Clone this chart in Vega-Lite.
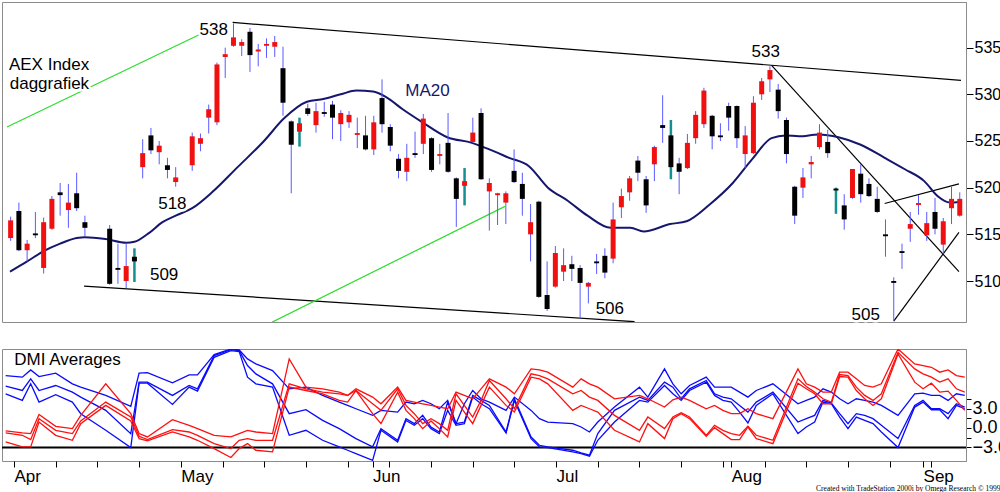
{
  "$schema": "https://vega.github.io/schema/vega-lite/v6.json",
  "background": "white",
  "padding": {"left": 0, "top": 1, "right": 0, "bottom": 0},
  "spacing": 24,
  "config": {
    "font": "Liberation Sans",
    "view": {"stroke": "#8c8c8c"},
    "axis": {"grid": false, "labelColor": "black", "tickColor": "black", "domainColor": "#8c8c8c", "labelFont": "Liberation Sans"},
    "axisX": {"labelOverlap": false}
  },
  "datasets": {
    "ohlc": [
      {"i": -1, "o": 514.6, "h": 516.9, "l": 514.3, "c": 516.5},
      {"i": 0, "o": 517.5, "h": 518.4, "l": 513.2, "c": 513.3},
      {"i": 1, "o": 513.3, "h": 514.4, "l": 512.1, "c": 514.0},
      {"i": 2, "o": 515.1, "h": 517.4, "l": 514.6, "c": 514.9},
      {"i": 3, "o": 511.4, "h": 516.8, "l": 510.8, "c": 516.3},
      {"i": 4, "o": 515.6, "h": 519.1, "l": 515.5, "c": 518.8},
      {"i": 5, "o": 519.5, "h": 520.5, "l": 517.0, "c": 519.2},
      {"i": 6, "o": 517.6, "h": 520.4, "l": 515.7, "c": 518.4},
      {"i": 7, "o": 519.4, "h": 521.6, "l": 517.5, "c": 517.8},
      {"i": 8, "o": 516.3, "h": 517.0, "l": 514.8, "c": 515.7},
      {"i": 11, "o": 515.6, "h": 516.0, "l": 509.6, "c": 509.7},
      {"i": 12, "o": 511.4, "h": 514.0, "l": 509.7, "c": 511.2},
      {"i": 13, "o": 510.0, "h": 514.0, "l": 509.25, "c": 511.6},
      {"i": 14, "o": 512.6, "h": 513.5, "l": 509.9, "c": 512.1, "s": 1},
      {"i": 15, "o": 522.2, "h": 525.2, "l": 521.0, "c": 523.7},
      {"i": 16, "o": 525.6, "h": 526.4, "l": 523.6, "c": 524.0},
      {"i": 17, "o": 523.8, "h": 525.0, "l": 522.5, "c": 524.5},
      {"i": 18, "o": 522.4, "h": 523.2, "l": 521.0, "c": 521.9},
      {"i": 19, "o": 520.6, "h": 522.2, "l": 520.1, "c": 521.1},
      {"i": 21, "o": 522.4, "h": 525.9, "l": 521.8, "c": 525.5},
      {"i": 22, "o": 524.7, "h": 525.8, "l": 523.9, "c": 525.3},
      {"i": 23, "o": 527.5, "h": 528.9, "l": 525.8, "c": 528.4},
      {"i": 24, "o": 527.0, "h": 533.4, "l": 526.7, "c": 533.2},
      {"i": 25, "o": 534.0, "h": 535.0, "l": 531.75, "c": 534.3},
      {"i": 26, "o": 535.2, "h": 537.6, "l": 535.1, "c": 536.1},
      {"i": 27, "o": 535.2, "h": 535.9, "l": 534.1, "c": 535.6},
      {"i": 28, "o": 536.7, "h": 537.1, "l": 532.4, "c": 534.2},
      {"i": 29, "o": 534.6, "h": 535.4, "l": 533.0, "c": 534.8},
      {"i": 30, "o": 535.2, "h": 536.0, "l": 533.9, "c": 535.4},
      {"i": 31, "o": 535.1, "h": 536.25, "l": 534.0, "c": 535.6},
      {"i": 32, "o": 532.8, "h": 535.1, "l": 527.7, "c": 529.1},
      {"i": 33, "o": 527.1, "h": 527.2, "l": 519.4, "c": 524.6},
      {"i": 34, "o": 526.0, "h": 527.5, "l": 524.4, "c": 526.9, "s": 1},
      {"i": 35, "o": 528.5, "h": 529.0, "l": 527.7, "c": 527.9},
      {"i": 36, "o": 526.7, "h": 529.1, "l": 525.9, "c": 528.2},
      {"i": 37, "o": 528.1, "h": 529.2, "l": 527.6, "c": 527.9},
      {"i": 38, "o": 528.9, "h": 529.3, "l": 525.2, "c": 527.5},
      {"i": 39, "o": 526.8, "h": 528.3, "l": 525.0, "c": 528.0},
      {"i": 40, "o": 527.0, "h": 528.2, "l": 526.4, "c": 527.8},
      {"i": 41, "o": 525.65, "h": 527.5, "l": 524.25, "c": 525.85},
      {"i": 42, "o": 525.6, "h": 527.7, "l": 524.0, "c": 524.1},
      {"i": 43, "o": 524.1, "h": 527.7, "l": 523.5, "c": 527.0},
      {"i": 44, "o": 529.6, "h": 531.6, "l": 525.9, "c": 526.8},
      {"i": 45, "o": 526.5, "h": 526.8, "l": 523.9, "c": 524.5},
      {"i": 46, "o": 523.1, "h": 523.6, "l": 521.0, "c": 521.8},
      {"i": 47, "o": 521.7, "h": 524.7, "l": 520.7, "c": 523.2},
      {"i": 48, "o": 523.7, "h": 526.0, "l": 523.2, "c": 523.5},
      {"i": 49, "o": 524.7, "h": 527.9, "l": 523.6, "c": 527.4},
      {"i": 50, "o": 525.3, "h": 525.4, "l": 521.7, "c": 521.9},
      {"i": 51, "o": 523.4, "h": 524.7, "l": 522.5, "c": 523.6},
      {"i": 52, "o": 524.8, "h": 528.0, "l": 521.6, "c": 521.7},
      {"i": 53, "o": 521.0, "h": 521.1, "l": 515.8, "c": 518.8},
      {"i": 54, "o": 520.2, "h": 522.1, "l": 518.1, "c": 520.7, "s": 1},
      {"i": 55, "o": 524.9, "h": 527.5, "l": 524.8, "c": 525.9},
      {"i": 56, "o": 528.0, "h": 528.5, "l": 520.85, "c": 520.9},
      {"i": 57, "o": 519.6, "h": 521.0, "l": 515.4, "c": 520.5},
      {"i": 58, "o": 519.2, "h": 519.45, "l": 516.0, "c": 519.4},
      {"i": 59, "o": 518.4, "h": 519.6, "l": 516.1, "c": 519.4},
      {"i": 60, "o": 521.8, "h": 524.1, "l": 520.5, "c": 520.6},
      {"i": 61, "o": 520.4, "h": 521.6, "l": 517.0, "c": 518.8},
      {"i": 62, "o": 515.0, "h": 518.25, "l": 512.1, "c": 516.3},
      {"i": 63, "o": 518.5, "h": 518.6, "l": 508.2, "c": 508.3},
      {"i": 64, "o": 508.5, "h": 512.1, "l": 506.8, "c": 507.0},
      {"i": 65, "o": 509.4, "h": 513.75, "l": 509.3, "c": 513.0},
      {"i": 66, "o": 511.0, "h": 513.5, "l": 510.0, "c": 511.7},
      {"i": 67, "o": 511.8, "h": 512.7, "l": 510.0, "c": 511.3},
      {"i": 68, "o": 511.4, "h": 511.7, "l": 506.0, "c": 509.8},
      {"i": 69, "o": 509.4, "h": 509.9, "l": 507.6, "c": 509.8},
      {"i": 70, "o": 512.1, "h": 512.9, "l": 510.75, "c": 511.9},
      {"i": 71, "o": 512.7, "h": 513.5, "l": 510.3, "c": 510.9},
      {"i": 72, "o": 512.4, "h": 518.4, "l": 511.9, "c": 516.6},
      {"i": 73, "o": 517.9, "h": 519.9, "l": 516.75, "c": 519.1},
      {"i": 74, "o": 519.5, "h": 521.25, "l": 518.6, "c": 521.0},
      {"i": 75, "o": 522.9, "h": 523.4, "l": 520.7, "c": 521.6},
      {"i": 76, "o": 520.9, "h": 521.25, "l": 517.3, "c": 518.1},
      {"i": 77, "o": 522.5, "h": 524.5, "l": 520.7, "c": 524.35},
      {"i": 78, "o": 526.7, "h": 529.9, "l": 524.8, "c": 526.4},
      {"i": 79, "o": 525.6, "h": 527.25, "l": 520.9, "c": 522.2, "s": 1},
      {"i": 80, "o": 522.6, "h": 523.2, "l": 519.3, "c": 521.7},
      {"i": 81, "o": 522.1, "h": 525.75, "l": 522.0, "c": 524.8},
      {"i": 82, "o": 525.3, "h": 528.2, "l": 524.7, "c": 527.8},
      {"i": 83, "o": 526.8, "h": 530.7, "l": 526.4, "c": 530.4},
      {"i": 84, "o": 527.7, "h": 527.8, "l": 524.1, "c": 525.5},
      {"i": 85, "o": 525.6, "h": 526.9, "l": 525.0, "c": 525.4},
      {"i": 86, "o": 528.75, "h": 529.1, "l": 526.1, "c": 527.5},
      {"i": 87, "o": 528.75, "h": 528.8, "l": 524.25, "c": 525.3},
      {"i": 88, "o": 523.6, "h": 526.6, "l": 522.1, "c": 525.6},
      {"i": 89, "o": 523.7, "h": 529.8, "l": 523.6, "c": 529.1},
      {"i": 90, "o": 530.0, "h": 531.75, "l": 529.4, "c": 531.4},
      {"i": 91, "o": 531.6, "h": 533.0, "l": 530.25, "c": 532.6},
      {"i": 92, "o": 530.5, "h": 531.1, "l": 527.4, "c": 528.2},
      {"i": 93, "o": 527.25, "h": 527.5, "l": 522.6, "c": 523.6},
      {"i": 94, "o": 520.1, "h": 520.2, "l": 516.1, "c": 517.0},
      {"i": 95, "o": 520.0, "h": 522.1, "l": 518.9, "c": 521.1},
      {"i": 96, "o": 522.5, "h": 523.4, "l": 521.0, "c": 522.75},
      {"i": 97, "o": 524.35, "h": 526.8, "l": 524.1, "c": 525.9},
      {"i": 98, "o": 524.9, "h": 526.2, "l": 523.2, "c": 523.7},
      {"i": 99, "o": 519.9, "h": 520.0, "l": 517.2, "c": 519.7, "s": 1},
      {"i": 100, "o": 518.1, "h": 519.3, "l": 515.5, "c": 516.6},
      {"i": 101, "o": 518.9, "h": 522.0, "l": 518.8, "c": 522.0},
      {"i": 102, "o": 521.5, "h": 522.5, "l": 518.4, "c": 519.3},
      {"i": 103, "o": 520.4, "h": 521.0, "l": 519.0, "c": 519.1},
      {"i": 104, "o": 518.8, "h": 520.1, "l": 517.3, "c": 517.4},
      {"i": 105, "o": 515.0, "h": 516.6, "l": 512.6, "c": 514.8},
      {"i": 106, "o": 510.0, "h": 510.4, "l": 505.7, "c": 509.8},
      {"i": 107, "o": 513.2, "h": 514.0, "l": 511.3, "c": 513.0},
      {"i": 108, "o": 515.6, "h": 517.4, "l": 514.2, "c": 516.1},
      {"i": 109, "o": 518.15, "h": 519.2, "l": 517.1, "c": 518.35},
      {"i": 110, "o": 514.9, "h": 517.4, "l": 514.3, "c": 516.2},
      {"i": 111, "o": 517.4, "h": 518.9, "l": 515.0, "c": 515.6},
      {"i": 112, "o": 513.9, "h": 516.75, "l": 512.9, "c": 516.4},
      {"i": 113, "o": 517.8, "h": 520.1, "l": 516.1, "c": 518.8},
      {"i": 114, "o": 517.0, "h": 519.5, "l": 516.9, "c": 518.8}
    ],
    "ma": [
      {"i": -1.08, "m": 511.0}, {"i": 1, "m": 512.1}, {"i": 3, "m": 513.2}, {"i": 5, "m": 514.0},
      {"i": 7, "m": 514.6}, {"i": 8, "m": 514.7}, {"i": 10.5, "m": 514.5}, {"i": 13, "m": 514.1},
      {"i": 14, "m": 514.2}, {"i": 15.7, "m": 515.1}, {"i": 17.4, "m": 516.3}, {"i": 19, "m": 517.0},
      {"i": 21, "m": 517.8}, {"i": 23.4, "m": 519.5}, {"i": 26.5, "m": 522.2}, {"i": 29.7, "m": 525.0},
      {"i": 32.1, "m": 527.4}, {"i": 34.9, "m": 529.2}, {"i": 36.9, "m": 529.5}, {"i": 39, "m": 530.0},
      {"i": 40.9, "m": 530.4}, {"i": 42.9, "m": 530.3}, {"i": 44.5, "m": 529.7}, {"i": 46.5, "m": 528.4},
      {"i": 48.9, "m": 527.0}, {"i": 51.9, "m": 525.4}, {"i": 54.9, "m": 524.8}, {"i": 57, "m": 524.1},
      {"i": 59.4, "m": 523.2}, {"i": 61.8, "m": 522.3}, {"i": 64.1, "m": 520.0}, {"i": 66.5, "m": 518.6},
      {"i": 68.9, "m": 517.0}, {"i": 71.7, "m": 515.7}, {"i": 74.1, "m": 515.7}, {"i": 75.7, "m": 515.3},
      {"i": 78.9, "m": 516.1}, {"i": 80.9, "m": 516.4}, {"i": 83.7, "m": 518.2}, {"i": 86.5, "m": 520.5},
      {"i": 88.8, "m": 523.0}, {"i": 91.2, "m": 525.3}, {"i": 92.9, "m": 525.6}, {"i": 94.5, "m": 525.5},
      {"i": 96.9, "m": 525.7}, {"i": 99.3, "m": 525.4}, {"i": 102, "m": 524.6}, {"i": 104.9, "m": 523.2},
      {"i": 107.3, "m": 522.0}, {"i": 109.7, "m": 520.7}, {"i": 111.3, "m": 519.1}, {"i": 112.8, "m": 518.4},
      {"i": 114, "m": 518.5}
    ],
    "lines": [
      {"g": "t1", "kind": "trend", "i": 25.9, "p": 537.7}, {"g": "t1", "kind": "trend", "i": 114.15, "p": 531.5},
      {"g": "t2", "kind": "trend", "i": 7.9, "p": 509.46}, {"g": "t2", "kind": "trend", "i": 74.6, "p": 505.64},
      {"g": "t3", "kind": "trend", "i": 91.2, "p": 533.1}, {"g": "t3", "kind": "trend", "i": 113.9, "p": 511.0},
      {"g": "t4", "kind": "trend", "i": 104.9, "p": 518.3}, {"g": "t4", "kind": "trend", "i": 113.9, "p": 520.4},
      {"g": "t5", "kind": "trend", "i": 106.0, "p": 505.7}, {"g": "t5", "kind": "trend", "i": 113.9, "p": 515.2},
      {"g": "g1", "kind": "guide", "i": -1.44, "p": 526.5}, {"g": "g1", "kind": "guide", "i": 21.9, "p": 536.4},
      {"g": "g2", "kind": "guide", "i": 30.7, "p": 505.6}, {"g": "g2", "kind": "guide", "i": 58.9, "p": 518.0}
    ],
    "notes": [
      {"t": "AEX Index", "i": 3.66, "p": 533.1},
      {"t": "daggrafiek", "i": 3.7, "p": 531.1},
      {"t": "538", "i": 23.6, "p": 536.9},
      {"t": "518", "i": 18.6, "p": 518.25},
      {"t": "509", "i": 17.6, "p": 510.6},
      {"t": "506", "i": 71.6, "p": 507.0},
      {"t": "533", "i": 90.5, "p": 534.5},
      {"t": "505", "i": 102.6, "p": 506.4},
      {"t": "MA20", "i": 49.5, "p": 530.4}
    ],
    "dmi": [
      {"i": -1, "b1": 8.1, "b2": 6.46, "b3": 5.28, "r1": -0.46, "r2": -0.77, "r3": -2.15},
      {"i": 1, "b1": 7.85, "b2": 5.79, "b3": 4.26, "r1": -0.77, "r2": -1.13, "r3": -2.92},
      {"i": 2, "b1": 8.97, "b2": 7.59, "b3": 6.82, "r1": -0.87, "r2": -1.8, "r3": -2.92},
      {"i": 3, "b1": 7.95, "b2": 5.79, "b3": 4.0, "r1": 2.1, "r2": 1.44, "r3": 0.92},
      {"i": 5, "b1": 8.46, "b2": 6.56, "b3": 5.13, "r1": 0.26, "r2": -0.36, "r3": -1.13},
      {"i": 7, "b1": 6.82, "b2": 5.54, "b3": 4.0, "r1": -0.1, "r2": -0.87, "r3": -1.9},
      {"i": 8, "b1": 6.31, "b2": 4.77, "b3": 2.21, "r1": 1.95, "r2": 1.08, "r3": 0.67},
      {"i": 11, "b1": 5.03, "b2": 2.72, "b3": -0.36, "r1": 6.82, "r2": 4.0, "r3": 3.49},
      {"i": 14, "b1": 3.33, "b2": -0.87, "b3": -3.03, "r1": 2.21, "r2": 1.69, "r3": 1.08},
      {"i": 15, "b1": 8.46, "b2": 7.08, "b3": 6.92, "r1": -0.87, "r2": -1.28, "r3": -1.64},
      {"i": 16, "b1": 8.56, "b2": 7.08, "b3": 6.92, "r1": -1.38, "r2": -1.8, "r3": -2.0},
      {"i": 19, "b1": 6.97, "b2": 5.03, "b3": 3.64, "r1": 1.28, "r2": -0.26, "r3": -0.62},
      {"i": 21, "b1": 8.21, "b2": 6.56, "b3": 6.31, "r1": 0.41, "r2": -0.62, "r3": -1.38},
      {"i": 22, "b1": 8.21, "b2": 6.05, "b3": 5.69, "r1": -0.1, "r2": -1.13, "r3": -1.9},
      {"i": 24, "b1": 11.33, "b2": 11.18, "b3": 10.92, "r1": -1.13, "r2": -2.41, "r3": -3.18},
      {"i": 26, "b1": 12.2, "b2": 12.1, "b3": 11.95, "r1": -1.38, "r2": -3.18, "r3": -4.56},
      {"i": 27, "b1": 12.05, "b2": 11.95, "b3": 11.8, "r1": -0.87, "r2": -1.9, "r3": -3.18},
      {"i": 28, "b1": 10.67, "b2": 9.64, "b3": 7.85, "r1": -0.36, "r2": -1.64, "r3": -2.41},
      {"i": 29, "b1": 9.9, "b2": 8.36, "b3": 6.82, "r1": -0.62, "r2": -1.9, "r3": -3.44},
      {"i": 31, "b1": 8.87, "b2": 6.82, "b3": 6.31, "r1": -0.87, "r2": -1.9, "r3": -3.69},
      {"i": 33, "b1": 6.05, "b2": 2.21, "b3": -1.13, "r1": 10.67, "r2": 6.82, "r3": 6.31},
      {"i": 35, "b1": 6.31, "b2": 2.82, "b3": -0.36, "r1": 6.31, "r2": 6.05, "r3": 5.79},
      {"i": 37, "b1": 5.03, "b2": 1.18, "b3": -1.9, "r1": 6.05, "r2": 5.54, "r3": 5.28},
      {"i": 39, "b1": 4.0, "b2": -0.1, "b3": -2.92, "r1": 5.54, "r2": 5.28, "r3": 4.26},
      {"i": 40, "b1": 3.49, "b2": -0.87, "b3": -3.44, "r1": 5.03, "r2": 5.03, "r3": 4.0},
      {"i": 41, "b1": 2.97, "b2": -1.64, "b3": -3.95, "r1": 6.05, "r2": 5.79, "r3": 5.79},
      {"i": 43, "b1": 1.95, "b2": -2.92, "b3": -5.0, "r1": 4.77, "r2": 3.74, "r3": 2.21},
      {"i": 44, "b1": 2.72, "b2": -0.1, "b3": -0.36, "r1": 3.74, "r2": 2.72, "r3": 0.67},
      {"i": 46, "b1": 2.46, "b2": -1.9, "b3": -2.15, "r1": 6.31, "r2": 6.05, "r3": 5.54},
      {"i": 47, "b1": 4.0, "b2": 1.44, "b3": 1.18, "r1": 4.26, "r2": 3.49, "r3": 2.72},
      {"i": 48, "b1": 3.74, "b2": 0.67, "b3": 0.41, "r1": 4.0, "r2": 2.21, "r3": 1.44},
      {"i": 49, "b1": 4.26, "b2": 1.95, "b3": 1.44, "r1": 3.74, "r2": 0.67, "r3": -0.1},
      {"i": 50, "b1": 3.74, "b2": 0.15, "b3": -0.1, "r1": 3.49, "r2": 1.44, "r3": 1.08},
      {"i": 51, "b1": 2.97, "b2": -0.62, "b3": -0.87, "r1": 3.23, "r2": 0.67, "r3": -0.1},
      {"i": 52, "b1": 4.26, "b2": 4.0, "b3": 2.72, "r1": 2.97, "r2": -0.36, "r3": -1.38},
      {"i": 53, "b1": 0.67, "b2": 0.67, "b3": 0.41, "r1": 5.54, "r2": 5.28, "r3": 4.26},
      {"i": 54, "b1": 3.74, "b2": 0.92, "b3": 0.67, "r1": 5.03, "r2": 3.49, "r3": 2.46},
      {"i": 55, "b1": 5.79, "b2": 5.03, "b3": 4.77, "r1": 4.51, "r2": 1.69, "r3": 0.67},
      {"i": 56, "b1": 4.51, "b2": 4.26, "b3": 3.74, "r1": 6.05, "r2": 4.26, "r3": 3.49},
      {"i": 57, "b1": 4.0, "b2": 3.49, "b3": 2.97, "r1": 7.59, "r2": 7.33, "r3": 6.31},
      {"i": 59, "b1": 2.72, "b2": -0.62, "b3": -0.77, "r1": 6.31, "r2": 4.51, "r3": 3.49},
      {"i": 60, "b1": 4.77, "b2": 4.51, "b3": 4.26, "r1": 5.28, "r2": 2.97, "r3": 2.46},
      {"i": 62, "b1": 2.72, "b2": -1.38, "b3": -1.64, "r1": 9.13, "r2": 8.36, "r3": 7.85},
      {"i": 63, "b1": 1.44, "b2": -2.67, "b3": -2.92, "r1": 8.97, "r2": 8.1, "r3": 7.59},
      {"i": 64, "b1": 0.92, "b2": -2.92, "b3": -3.03, "r1": 8.62, "r2": 7.59, "r3": 6.82},
      {"i": 67, "b1": 0.67, "b2": -3.44, "b3": -3.69, "r1": 6.31, "r2": 5.28, "r3": 2.72},
      {"i": 68, "b1": 0.15, "b2": -3.85, "b3": -3.95, "r1": 7.59, "r2": 5.79, "r3": 3.49},
      {"i": 69, "b1": -0.62, "b2": -4.2, "b3": -4.36, "r1": 6.82, "r2": 4.77, "r3": 2.97},
      {"i": 70, "b1": 0.92, "b2": -0.87, "b3": -1.9, "r1": 6.31, "r2": 4.26, "r3": 2.46},
      {"i": 72, "b1": 3.23, "b2": 2.72, "b3": 0.92, "r1": 4.51, "r2": 1.95, "r3": -0.36},
      {"i": 75, "b1": 6.31, "b2": 4.77, "b3": 4.26, "r1": 5.03, "r2": -0.36, "r3": -2.15},
      {"i": 76, "b1": 4.77, "b2": 4.26, "b3": 4.0, "r1": 4.51, "r2": 1.69, "r3": 0.67},
      {"i": 78, "b1": 9.13, "b2": 7.08, "b3": 6.56, "r1": 3.23, "r2": -0.1, "r3": -1.64},
      {"i": 79, "b1": 6.82, "b2": 6.31, "b3": 5.28, "r1": 4.36, "r2": 1.69, "r3": 1.44},
      {"i": 80, "b1": 5.28, "b2": 4.51, "b3": 4.26, "r1": 4.77, "r2": 2.36, "r3": 2.21},
      {"i": 81, "b1": 6.56, "b2": 6.05, "b3": 5.79, "r1": 4.26, "r2": 1.69, "r3": 1.44},
      {"i": 83, "b1": 7.85, "b2": 7.33, "b3": 7.08, "r1": 2.97, "r2": -1.13, "r3": -1.28},
      {"i": 84, "b1": 6.31, "b2": 5.28, "b3": 5.03, "r1": 3.49, "r2": 0.41, "r3": 0.05},
      {"i": 85, "b1": 6.31, "b2": 4.77, "b3": 4.26, "r1": 2.72, "r2": -0.36, "r3": -0.87},
      {"i": 86, "b1": 6.31, "b2": 4.51, "b3": 4.0, "r1": 2.21, "r2": -0.87, "r3": -1.8},
      {"i": 87, "b1": 5.54, "b2": 3.49, "b3": 2.46, "r1": 2.21, "r2": -1.13, "r3": -1.8},
      {"i": 88, "b1": 4.77, "b2": 2.46, "b3": 0.77, "r1": 2.97, "r2": 0.26, "r3": 0.15},
      {"i": 89, "b1": 5.79, "b2": 4.0, "b3": 3.49, "r1": 2.21, "r2": -1.13, "r3": -1.64},
      {"i": 91, "b1": 6.82, "b2": 5.54, "b3": 5.28, "r1": 1.44, "r2": -1.9, "r3": -2.41},
      {"i": 94, "b1": 3.74, "b2": 0.92, "b3": -0.87, "r1": 9.13, "r2": 7.59, "r3": 6.92},
      {"i": 95, "b1": 4.26, "b2": 1.44, "b3": 0.15, "r1": 6.82, "r2": 6.41, "r3": 6.05},
      {"i": 96, "b1": 4.77, "b2": 1.95, "b3": 0.92, "r1": 6.31, "r2": 5.54, "r3": 5.28},
      {"i": 97, "b1": 6.05, "b2": 4.26, "b3": 4.0, "r1": 5.54, "r2": 4.51, "r3": 3.74},
      {"i": 98, "b1": 5.54, "b2": 3.85, "b3": 3.74, "r1": 5.54, "r2": 4.0, "r3": 3.74},
      {"i": 99, "b1": 4.51, "b2": 2.21, "b3": 1.69, "r1": 8.62, "r2": 8.26, "r3": 7.95},
      {"i": 100, "b1": 3.74, "b2": 0.67, "b3": -0.1, "r1": 8.62, "r2": 8.1, "r3": 7.85},
      {"i": 101, "b1": 4.51, "b2": 2.21, "b3": 1.69, "r1": 7.59, "r2": 6.31, "r3": 5.79},
      {"i": 102, "b1": 4.26, "b2": 1.95, "b3": 1.18, "r1": 6.56, "r2": 5.03, "r3": 4.51},
      {"i": 103, "b1": 4.0, "b2": 1.44, "b3": 0.67, "r1": 6.31, "r2": 4.26, "r3": 3.49},
      {"i": 104, "b1": 3.49, "b2": 0.41, "b3": -0.62, "r1": 6.82, "r2": 5.28, "r3": 4.51},
      {"i": 106, "b1": 1.95, "b2": -1.64, "b3": -3.03, "r1": 12.2, "r2": 11.69, "r3": 11.44},
      {"i": 108, "b1": 5.28, "b2": 3.49, "b3": 3.23, "r1": 9.9, "r2": 9.13, "r3": 7.08},
      {"i": 109, "b1": 5.38, "b2": 4.26, "b3": 4.0, "r1": 9.64, "r2": 8.36, "r3": 6.05},
      {"i": 110, "b1": 5.03, "b2": 2.97, "b3": 2.82, "r1": 9.38, "r2": 7.85, "r3": 6.92},
      {"i": 111, "b1": 5.03, "b2": 2.97, "b3": 2.82, "r1": 8.62, "r2": 7.08, "r3": 5.54},
      {"i": 112, "b1": 4.26, "b2": 2.21, "b3": 1.44, "r1": 8.97, "r2": 7.59, "r3": 5.69},
      {"i": 113, "b1": 5.28, "b2": 3.74, "b3": 3.49, "r1": 8.1, "r2": 6.05, "r3": 4.26},
      {"i": 114, "b1": 5.03, "b2": 3.23, "b3": 2.97, "r1": 7.85, "r2": 5.54, "r3": 2.72}
    ]
  },
  "vconcat": [
    {
      "width": 964,
      "height": 320,
      "layer": [
        {
          "data": {"name": "lines"},
          "mark": {"type": "line", "strokeWidth": 1.2, "clip": true},
          "encoding": {
            "x": {"field": "i", "type": "quantitative", "scale": {"domain": [-1.44, 114.15], "nice": false, "zero": false}, "axis": null},
            "y": {"field": "p", "type": "quantitative", "scale": {"domain": [505.61, 539.89], "nice": false, "zero": false},
                  "axis": {"orient": "right", "values": [510, 515, 520, 525, 530, 535], "title": null, "tickSize": 7, "labelPadding": 1, "labelFontSize": 16}},
            "detail": {"field": "g"},
            "color": {"condition": {"test": "datum.kind == 'guide'", "value": "#2ddc2d"}, "value": "black"}
          }
        },
        {
          "data": {"name": "ma"},
          "mark": {"type": "line", "color": "#16166e", "strokeWidth": 2, "interpolate": "monotone"},
          "encoding": {
            "x": {"field": "i", "type": "quantitative", "scale": {"domain": [-1.44, 114.15], "nice": false, "zero": false}, "axis": null},
            "y": {"field": "m", "type": "quantitative", "scale": {"domain": [505.61, 539.89], "nice": false, "zero": false},
                  "axis": {"orient": "right", "values": [510, 515, 520, 525, 530, 535], "title": null, "tickSize": 7, "labelPadding": 1, "labelFontSize": 16}}
          }
        },
        {
          "data": {"name": "ohlc"},
          "mark": {"type": "rule"},
          "encoding": {
            "x": {"field": "i", "type": "quantitative", "scale": {"domain": [-1.44, 114.15], "nice": false, "zero": false}, "axis": null},
            "y": {"field": "l", "type": "quantitative", "scale": {"domain": [505.61, 539.89], "nice": false, "zero": false},
                  "axis": {"orient": "right", "values": [510, 515, 520, 525, 530, 535], "title": null, "tickSize": 7, "labelPadding": 1, "labelFontSize": 16}},
            "y2": {"field": "h"},
            "color": {"condition": {"test": "datum.s == 1", "value": "#158f8f"}, "value": "#5a5aff"},
            "strokeWidth": {"condition": {"test": "datum.s == 1", "value": 2.5}, "value": 1}
          }
        },
        {
          "data": {"name": "ohlc"},
          "mark": {"type": "bar", "size": 5, "clip": true},
          "encoding": {
            "x": {"field": "i", "type": "quantitative", "scale": {"domain": [-1.44, 114.15], "nice": false, "zero": false}, "axis": null},
            "y": {"field": "o", "type": "quantitative", "scale": {"domain": [505.61, 539.89], "nice": false, "zero": false},
                  "axis": {"orient": "right", "values": [510, 515, 520, 525, 530, 535], "title": null, "tickSize": 7, "labelPadding": 1, "labelFontSize": 16}},
            "y2": {"field": "c"},
            "color": {"condition": {"test": "datum.c > datum.o", "value": "#f01010"}, "value": "black"}
          }
        },
        {
          "data": {"name": "notes"},
          "mark": {"type": "text", "fontSize": 17, "stroke": "white", "strokeWidth": 5, "baseline": "middle"},
          "encoding": {
            "x": {"field": "i", "type": "quantitative", "scale": {"domain": [-1.44, 114.15], "nice": false, "zero": false}, "axis": null},
            "y": {"field": "p", "type": "quantitative", "scale": {"domain": [505.61, 539.89], "nice": false, "zero": false},
                  "axis": {"orient": "right", "values": [510, 515, 520, 525, 530, 535], "title": null, "tickSize": 7, "labelPadding": 1, "labelFontSize": 16}},
            "text": {"field": "t"}
          }
        },
        {
          "data": {"name": "notes"},
          "mark": {"type": "text", "fontSize": 17, "baseline": "middle"},
          "encoding": {
            "x": {"field": "i", "type": "quantitative", "scale": {"domain": [-1.44, 114.15], "nice": false, "zero": false}, "axis": null},
            "y": {"field": "p", "type": "quantitative", "scale": {"domain": [505.61, 539.89], "nice": false, "zero": false},
                  "axis": {"orient": "right", "values": [510, 515, 520, 525, 530, 535], "title": null, "tickSize": 7, "labelPadding": 1, "labelFontSize": 16}},
            "text": {"field": "t"},
            "color": {"condition": {"test": "datum.t == 'MA20'", "value": "#16166e"}, "value": "black"}
          }
        }
      ]
    },
    {
      "width": 964,
      "height": 112,
      "layer": [
        {
          "data": {"values": [{}]},
          "mark": {"type": "rule", "color": "black", "strokeWidth": 2},
          "encoding": {
            "y": {"datum": -3, "type": "quantitative", "scale": {"domain": [-5.1, 12.2], "nice": false, "zero": false},
                  "axis": {"orient": "right", "values": [-3, -1.5, 0, 1.5, 3, 4.5], "labelExpr": "datum.value % 3 == 0 ? format(datum.value, '.1f') : ''", "title": null, "tickSize": 5, "labelPadding": 1, "labelFontSize": 18}}
          }
        },
        {
          "data": {"name": "dmi"},
          "transform": [{"fold": ["b1", "b2", "b3", "r1", "r2", "r3"], "as": ["key", "v"]}],
          "mark": {"type": "line", "strokeWidth": 1.3, "clip": true},
          "encoding": {
            "x": {"field": "i", "type": "quantitative", "scale": {"domain": [-1.44, 114.15], "nice": false, "zero": false},
                  "axis": {"orient": "bottom", "values": [0, 5, 10, 15, 20, 25, 30, 35, 40, 43, 45, 50, 55, 60, 65, 70, 75, 80, 85, 86, 90, 95, 100, 105, 109, 110],
                           "labelExpr": "datum.value == 0 ? 'Apr' : datum.value == 20 ? 'May' : datum.value == 43 ? 'Jun' : datum.value == 65 ? 'Jul' : datum.value == 86 ? 'Aug' : datum.value == 109 ? 'Sep' : ''",
                           "tickSize": 6, "labelFontSize": 17, "labelAlign": "left", "labelBaseline": "top", "labelPadding": 1, "labelOverlap": false, "labelFlush": false, "labelBound": false, "domain": false,
                           "title": "Created with TradeStation 2000i by Omega Research © 1999", "titleFont": "Liberation Sans Narrow", "titleFontSize": 7.5, "titleFontWeight": "normal", "titleAlign": "right", "titleX": 998, "titleY": 23, "titleBaseline": "top"}},
            "y": {"field": "v", "type": "quantitative", "scale": {"domain": [-5.1, 12.2], "nice": false, "zero": false},
                  "axis": {"orient": "right", "values": [-3, -1.5, 0, 1.5, 3, 4.5], "labelExpr": "datum.value % 3 == 0 ? format(datum.value, '.1f') : ''", "title": null, "tickSize": 5, "labelPadding": 1, "labelFontSize": 18}},
            "detail": {"field": "key"},
            "color": {"condition": {"test": "indexof(datum.key, 'b') == 0", "value": "#0a0aff"}, "value": "#ff1010"}
          }
        },
        {
          "data": {"values": [{"t": "DMI Averages", "i": 6.41, "v": 10.5}]},
          "mark": {"type": "text", "fontSize": 17, "baseline": "middle"},
          "encoding": {
            "x": {"field": "i", "type": "quantitative", "scale": {"domain": [-1.44, 114.15], "nice": false, "zero": false},
                  "axis": {"orient": "bottom", "values": [0, 5, 10, 15, 20, 25, 30, 35, 40, 43, 45, 50, 55, 60, 65, 70, 75, 80, 85, 86, 90, 95, 100, 105, 109, 110],
                           "labelExpr": "datum.value == 0 ? 'Apr' : datum.value == 20 ? 'May' : datum.value == 43 ? 'Jun' : datum.value == 65 ? 'Jul' : datum.value == 86 ? 'Aug' : datum.value == 109 ? 'Sep' : ''",
                           "tickSize": 6, "labelFontSize": 17, "labelAlign": "left", "labelBaseline": "top", "labelPadding": 1, "labelOverlap": false, "labelFlush": false, "labelBound": false, "domain": false,
                           "title": "Created with TradeStation 2000i by Omega Research © 1999", "titleFont": "Liberation Sans Narrow", "titleFontSize": 7.5, "titleFontWeight": "normal", "titleAlign": "right", "titleX": 998, "titleY": 23, "titleBaseline": "top"}},
            "y": {"field": "v", "type": "quantitative", "scale": {"domain": [-5.1, 12.2], "nice": false, "zero": false},
                  "axis": {"orient": "right", "values": [-3, -1.5, 0, 1.5, 3, 4.5], "labelExpr": "datum.value % 3 == 0 ? format(datum.value, '.1f') : ''", "title": null, "tickSize": 5, "labelPadding": 1, "labelFontSize": 18}},
            "text": {"field": "t"}
          }
        }
      ]
    }
  ]
}
